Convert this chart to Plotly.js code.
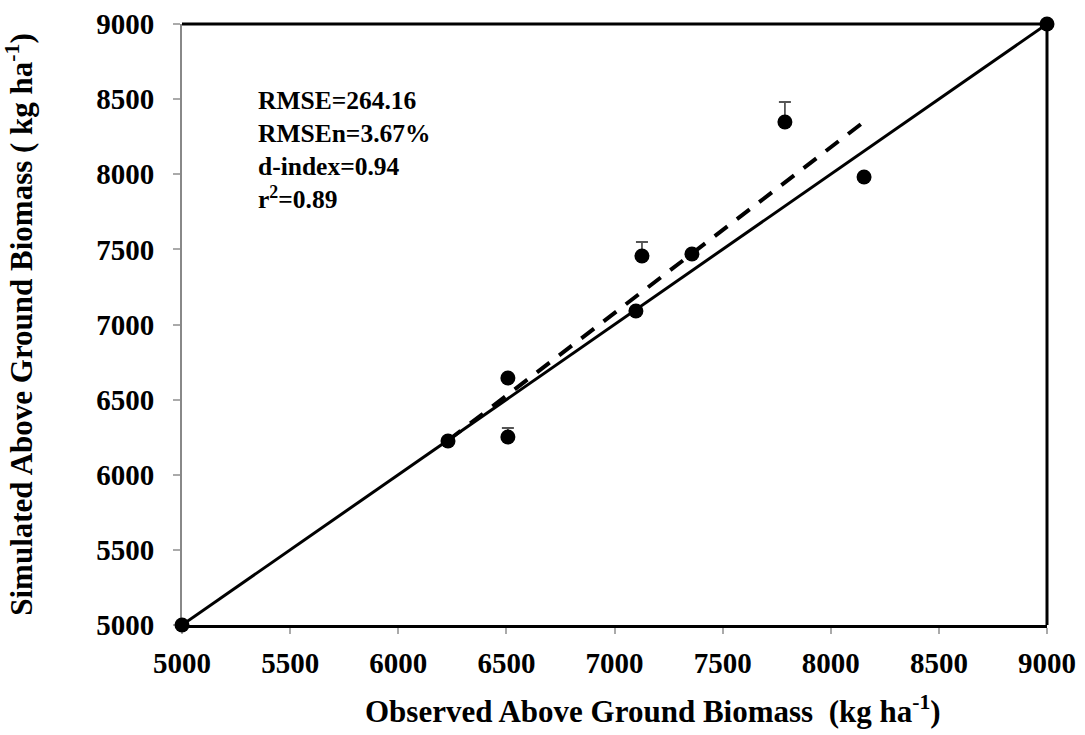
<!DOCTYPE html>
<html>
<head>
<meta charset="utf-8">
<script src="https://cdn.plot.ly/plotly-3.0.1.min.js"></script>
<style>html,body{margin:0;padding:0;background:#fff;}#chart{width:1085px;height:735px;}</style>
</head>
<body>
<div id="chart"></div>
<script>
// Observed vs simulated above ground biomass (kg/ha)
const observed  = [6230, 6507, 6507, 7099, 7127, 7358, 7788, 8154];
const simulated = [6225, 6251, 6644, 7090, 7456, 7469, 8348, 7982];
const errorUp   = [0, 60, 0, 0, 93, 0, 133, 0];
const oneToOneX = [5000, 9000];
const oneToOneY = [5000, 9000];
const tickVals  = [5000, 5500, 6000, 6500, 7000, 7500, 8000, 8500, 9000];
const statsText = ["RMSE=264.16", "RMSEn=3.67%", "d-index=0.94", "r<sup>2</sup>=0.89"];
const xTitle = 'Observed Above Ground Biomass  (kg ha<sup>-1</sup>)';
const yTitle = 'Simulated Above Ground Biomass ( kg ha<sup>-1</sup>)';

// least-squares trendline over the observed range
const n = observed.length;
const mx = observed.reduce((a, b) => a + b, 0) / n;
const my = simulated.reduce((a, b) => a + b, 0) / n;
let sxy = 0, sxx = 0;
for (let i = 0; i < n; i++) { sxy += (observed[i] - mx) * (simulated[i] - my); sxx += (observed[i] - mx) ** 2; }
const slope = sxy / sxx, icpt = my - slope * mx;
const trendX = [Math.min(...observed), Math.max(...observed)];
const trendY = trendX.map(x => icpt + slope * x);

const font = "'Liberation Serif', 'Times New Roman', serif";

const traces = [
  { x: oneToOneX, y: oneToOneY, type: 'scatter', mode: 'lines+markers',
    line: { color: '#000', width: 3 }, marker: { color: '#000', size: 15 }, showlegend: false, cliponaxis: false },
  { x: trendX, y: trendY, type: 'scatter', mode: 'lines',
    line: { color: '#000', width: 4, dash: '16px,12px' }, showlegend: false },
  { x: observed, y: simulated, type: 'scatter', mode: 'markers',
    marker: { color: '#000', size: 15 },
    error_y: { type: 'data', symmetric: false, array: errorUp, arrayminus: errorUp.map(() => 0),
               color: '#555', thickness: 1.8, width: 6 },
    showlegend: false }
];

const layout = {
  width: 1085, height: 735,
  margin: { l: 182, r: 38, t: 24, b: 110 },
  paper_bgcolor: '#fff', plot_bgcolor: '#fff',
  font: { family: font, color: '#000', size: 28 },
  xaxis: {
    range: [5000, 9000], tickvals: tickVals, ticktext: tickVals.map(String),
    showgrid: false, zeroline: false, layer: 'below traces',
    showline: true, linecolor: '#000', linewidth: 3,
    ticks: 'outside', ticklen: 6, tickcolor: '#aaa', tickwidth: 2,
    ticklabelstandoff: 4,
    tickfont: { family: font, size: 29, color: '#000', weight: 'bold' }
  },
  yaxis: {
    range: [5000, 9000], tickvals: tickVals, ticktext: tickVals.map(String),
    showgrid: false, zeroline: false, layer: 'below traces',
    showline: true, linecolor: '#888', linewidth: 2,
    ticks: 'outside', ticklen: 7, tickcolor: '#aaa', tickwidth: 2,
    ticklabelstandoff: 13,
    tickfont: { family: font, size: 29, color: '#000', weight: 'bold' },
    title: { text: yTitle, standoff: 54,
             font: { family: font, size: 31, color: '#000', weight: 'bold' } }
  },
  shapes: [
    { type: 'line', xref: 'paper', yref: 'paper', x0: 0, x1: 1, y0: 1, y1: 1, layer: 'below', line: { color: '#000', width: 3 } },
    { type: 'line', xref: 'paper', yref: 'paper', x0: 1, x1: 1, y0: 0, y1: 1, layer: 'below', line: { color: '#000', width: 3 } }
  ],
  annotations: [
    { xref: 'paper', yref: 'paper', x: 0.086, y: 0.9, xanchor: 'left', yanchor: 'top', align: 'left',
      showarrow: false, text: statsText.join('<br>'),
      font: { family: font, size: 25.5, color: '#000', weight: 'bold' } },
    { xref: 'paper', yref: 'paper', x: 0.5445, y: -0.14, xanchor: 'center', yanchor: 'middle',
      showarrow: false, text: xTitle,
      font: { family: font, size: 31, color: '#000', weight: 'bold' } }
  ]
};

Plotly.newPlot('chart', traces, layout, { displayModeBar: false, staticPlot: true });
</script>
</body>
</html>
